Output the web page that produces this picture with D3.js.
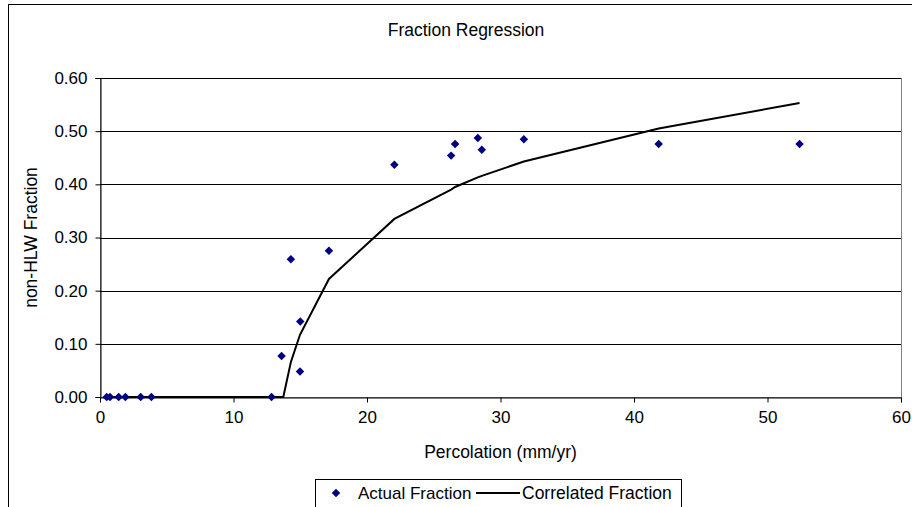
<!DOCTYPE html>
<html lang="en">
    <head>
        <meta charset="UTF-8">
        <title>Fraction Regression</title>
        <script src="https://d3js.org/d3.v7.min.js"></script>
        <style type="text/css">
            body { margin: 0; background: #fff; }
            text { font-family: "Liberation Sans", Arial, sans-serif; fill: #000; }
            .axis text { font-size: 17px; }
        </style>
    </head>
    <body>
    <script type="text/javascript">

        // Actual points (percolation mm/yr, fraction)
        const actualX = [0.5, 0.75, 1.4, 1.9, 3.05, 3.85, 12.85, 13.6, 14.3, 15.0, 14.98, 17.15, 22.05, 26.3, 26.6, 28.3, 28.6, 31.75, 41.85, 52.4];
        const actualY = [0, 0, 0, 0, 0, 0, 0, 0.077, 0.259, 0.142, 0.048, 0.275, 0.437, 0.454, 0.476, 0.487, 0.465, 0.485, 0.476, 0.476];

        // Correlated curve
        const corrX = [0.5, 0.75, 1.4, 1.9, 3.05, 3.85, 12.85, 13.73, 14.3, 14.98, 17.15, 22.05, 26.3, 26.6, 28.3, 28.6, 31.75, 41.85, 52.4];
        const corrY = [0, 0, 0, 0, 0, 0, 0, 0, 0.066, 0.117, 0.222, 0.335, 0.390, 0.395, 0.413, 0.416, 0.443, 0.505, 0.553];

        const xTicks = [0, 10, 20, 30, 40, 50, 60];
        const yTicks = [0, 0.1, 0.2, 0.3, 0.4, 0.5, 0.6];

        const width = 912;
        const height = 507;
        const plot = {left: 100, right: 901, top: 78, bottom: 397};

        const svg = d3.select("body")
            .append("svg")
            .attr("width", width)
            .attr("height", height);

        // chart frame (runs off the picture on right and bottom)
        svg.append("rect")
            .attr("x", 8.5).attr("y", 4.5)
            .attr("width", 1000).attr("height", 1000)
            .attr("fill", "#fff")
            .attr("stroke", "#000");

        const x = d3.scaleLinear().domain([0, 60]).range([plot.left, plot.right]);
        const y = d3.scaleLinear().domain([0, 0.6]).range([plot.bottom, plot.top]);

        // plot area border
        svg.append("rect")
            .attr("x", plot.left + 0.5).attr("y", plot.top + 0.5)
            .attr("width", plot.right - plot.left).attr("height", plot.bottom - plot.top)
            .attr("fill", "none")
            .attr("stroke", "#808080");

        // gridlines
        svg.append("g")
            .selectAll("line")
            .data(yTicks.slice(1))
            .enter()
            .append("line")
            .attr("x1", plot.left).attr("x2", plot.right)
            .attr("y1", d => Math.round(y(d)) + 0.5)
            .attr("y2", d => Math.round(y(d)) + 0.5)
            .attr("stroke", "#000");

        // axes
        svg.append("g")
            .attr("class", "axis")
            .attr("transform", "translate(0," + (plot.bottom + 0.5) + ")")
            .call(d3.axisBottom(x).tickValues(xTicks).tickSize(5).tickPadding(8).tickFormat(d3.format("d")))
            .call(g => g.selectAll("path,line").attr("stroke", "#000"));

        svg.append("g")
            .attr("class", "axis")
            .attr("transform", "translate(" + (plot.left + 0.5) + ",0)")
            .call(d3.axisLeft(y).tickValues(yTicks).tickSize(5).tickPadding(8).tickFormat(d3.format(".2f")))
            .call(g => g.selectAll("path,line").attr("stroke", "#000"));

        // correlated line
        const line = d3.line()
            .x((d, i) => x(corrX[i]))
            .y(d => y(d));

        svg.append("path")
            .datum(corrY)
            .attr("d", line)
            .attr("fill", "none")
            .attr("stroke", "#000")
            .attr("stroke-width", 2);

        // actual points
        const diamond = d3.symbol().type(d3.symbolDiamond2).size(46);
        svg.append("g")
            .selectAll("path")
            .data(actualY)
            .enter()
            .append("path")
            .attr("d", diamond)
            .attr("transform", (d, i) => "translate(" + x(actualX[i]) + "," + y(d) + ")")
            .attr("fill", "#000080");

        // titles
        svg.append("text")
            .attr("x", 466).attr("y", 36)
            .attr("text-anchor", "middle")
            .attr("font-size", "17.5px")
            .text("Fraction Regression");

        svg.append("text")
            .attr("x", (plot.left + plot.right) / 2).attr("y", 458)
            .attr("text-anchor", "middle")
            .attr("font-size", "17.5px")
            .text("Percolation (mm/yr)");

        svg.append("text")
            .attr("transform", "translate(37," + ((plot.top + plot.bottom) / 2) + ") rotate(-90)")
            .attr("text-anchor", "middle")
            .attr("font-size", "17.5px")
            .text("non-HLW Fraction");

        // legend
        const legend = svg.append("g");
        legend.append("rect")
            .attr("x", 315.5).attr("y", 479.5)
            .attr("width", 366).attr("height", 60)
            .attr("fill", "#fff")
            .attr("stroke", "#000");
        legend.append("path")
            .attr("d", diamond)
            .attr("transform", "translate(336,493)")
            .attr("fill", "#000080");
        legend.append("text")
            .attr("x", 358).attr("y", 499)
            .attr("font-size", "17px")
            .text("Actual Fraction");
        legend.append("line")
            .attr("x1", 476).attr("x2", 520)
            .attr("y1", 493).attr("y2", 493)
            .attr("stroke", "#000")
            .attr("stroke-width", 2);
        legend.append("text")
            .attr("x", 522).attr("y", 499)
            .attr("font-size", "17.5px")
            .text("Correlated Fraction");

    </script>
</body>
</html>
